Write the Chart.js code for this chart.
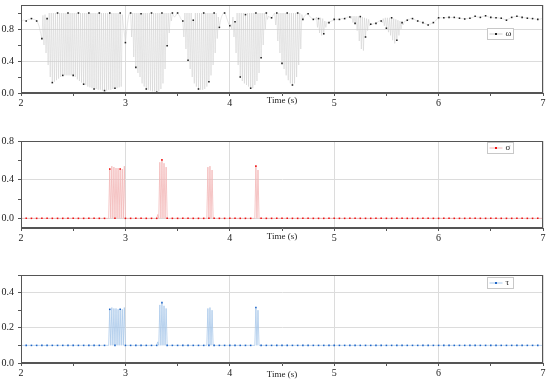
<!DOCTYPE html>
<html lang="en">
<head>
<meta charset="UTF-8">
<title>omega, sigma, tau vs time</title>
<script src="https://cdn.jsdelivr.net/npm/chart.js"></script>
<style>
  body { margin: 0; background: #fff; }
  #wrap { position: relative; width: 550px; height: 385px; }
  canvas { position: absolute; left: 0; }
</style>
</head>
<body>
<div id="wrap">
  <canvas id="cOmega" width="550" height="110" style="top:0px"></canvas>
  <canvas id="cSigma" width="550" height="127" style="top:120px"></canvas>
  <canvas id="cTau" width="550" height="125" style="top:260px"></canvas>
</div>
<script>
// samples every 0.01 s from t = 2 s, a marker on every 5th sample
const tStart = 2;
const tStep = 0.01;
const xTicks = [2, 3, 4, 5, 6, 7];

const omega = [
  0.90,0.90,0.91,0.91,0.90,0.90,0.91,0.92,0.92,0.93,
  0.93,0.93,0.92,0.92,0.91,0.90,0.88,0.85,0.80,0.74,
  0.68,0.97,0.60,0.98,0.50,0.93,0.35,1.00,0.20,1.00,
  0.13,1.00,0.14,1.00,0.16,1.00,0.18,1.00,0.20,1.00,
  0.22,1.00,0.22,1.00,0.22,1.00,0.22,1.00,0.22,1.00,
  0.22,1.00,0.20,1.00,0.17,1.00,0.15,1.00,0.13,1.00,
  0.11,1.00,0.10,1.00,0.08,1.00,0.07,1.00,0.06,1.00,
  0.05,1.00,0.05,1.00,0.04,1.00,0.04,1.00,0.03,1.00,
  0.03,1.00,0.03,1.00,0.04,1.00,0.04,1.00,0.05,1.00,
  0.06,1.00,0.06,1.00,0.07,1.00,0.08,0.98,0.85,0.75,
  0.63,0.75,0.87,0.96,1.00,1.00,0.70,1.00,0.45,1.00,
  0.32,1.00,0.25,1.00,0.20,0.99,0.12,1.00,0.08,1.00,
  0.05,1.00,0.04,1.00,0.03,1.00,0.02,1.00,0.02,1.00,
  0.01,1.00,0.02,1.00,0.05,1.00,0.12,1.00,0.30,1.00,
  0.59,1.00,0.75,1.00,0.90,1.00,0.97,0.95,0.96,0.99,
  1.00,0.98,0.96,0.93,0.91,0.90,0.70,1.00,0.55,1.00,
  0.41,1.00,0.30,1.00,0.20,0.91,0.12,1.00,0.08,1.00,
  0.05,1.00,0.04,1.00,0.04,1.00,0.05,1.00,0.08,1.00,
  0.14,1.00,0.22,1.00,0.35,1.00,0.50,1.00,0.68,0.95,
  0.82,0.90,0.95,0.98,1.00,1.00,0.98,0.94,0.90,0.86,
  0.84,0.86,0.80,0.95,0.70,0.89,0.50,1.00,0.35,1.00,
  0.20,1.00,0.15,1.00,0.12,0.98,0.10,1.00,0.08,1.00,
  0.06,1.00,0.06,1.00,0.10,1.00,0.15,1.00,0.25,1.00,
  0.44,1.00,0.60,1.00,0.80,1.00,0.92,0.96,0.95,0.95,
  0.94,0.96,0.98,1.00,0.85,1.00,0.65,1.00,0.50,1.00,
  0.37,1.00,0.30,1.00,0.22,1.00,0.16,1.00,0.12,1.00,
  0.10,1.00,0.12,1.00,0.20,1.00,0.35,1.00,0.55,0.98,
  0.92,0.95,0.97,0.98,0.99,0.99,0.97,0.95,0.94,0.93,
  0.92,0.93,0.92,0.95,0.82,0.93,0.75,0.94,0.72,0.93,
  0.74,0.90,0.82,0.89,0.87,0.88,0.89,0.90,0.90,0.91,
  0.92,0.92,0.92,0.92,0.92,0.92,0.92,0.93,0.93,0.93,
  0.93,0.94,0.94,0.95,0.95,0.95,0.93,0.96,0.88,0.96,
  0.87,0.96,0.78,0.96,0.65,0.955,0.55,0.95,0.53,0.94,
  0.70,0.93,0.78,0.92,0.84,0.86,0.86,0.86,0.87,0.87,
  0.87,0.88,0.89,0.90,0.90,0.90,0.88,0.93,0.84,0.94,
  0.81,0.94,0.76,0.94,0.72,0.94,0.66,0.93,0.62,0.92,
  0.66,0.91,0.72,0.90,0.80,0.88,0.85,0.89,0.90,0.90,
  0.91,0.92,0.92,0.93,0.93,0.93,0.92,0.92,0.91,0.90,
  0.90,0.90,0.89,0.89,0.88,0.88,0.87,0.87,0.86,0.86,
  0.85,0.86,0.86,0.87,0.87,0.88,0.89,0.90,0.92,0.93,
  0.94,0.94,0.94,0.94,0.94,0.94,0.94,0.945,0.945,0.945,
  0.945,0.945,0.945,0.945,0.945,0.945,0.94,0.94,0.94,0.94,
  0.935,0.93,0.93,0.93,0.93,0.925,0.93,0.93,0.93,0.935,
  0.935,0.94,0.94,0.95,0.95,0.96,0.955,0.95,0.95,0.945,
  0.945,0.95,0.955,0.96,0.96,0.965,0.96,0.955,0.95,0.945,
  0.945,0.945,0.94,0.94,0.94,0.94,0.94,0.94,0.935,0.935,
  0.935,0.93,0.925,0.92,0.915,0.91,0.92,0.925,0.93,0.94,
  0.945,0.95,0.95,0.955,0.955,0.96,0.955,0.955,0.95,0.95,
  0.945,0.945,0.94,0.94,0.94,0.935,0.935,0.935,0.93,0.93,
  0.93,0.93,0.925,0.925,0.92,0.92,0.92,0.925,0.925,0.93,
  0.93
];

const sigma = [
  0,0,0,0,0,0,0,0,0,0,
  0,0,0,0,0,0,0,0,0,0,
  0,0,0,0,0,0,0,0,0,0,
  0,0,0,0,0,0,0,0,0,0,
  0,0,0,0,0,0,0,0,0,0,
  0,0,0,0,0,0,0,0,0,0,
  0,0,0,0,0,0,0,0,0,0,
  0,0,0,0,0,0,0,0,0,0,
  0,0,0,0,0,0.51,0,0.54,0,0.53,
  0,0.52,0,0.52,0,0.51,0,0.51,0,0.54,
  0,0,0,0,0,0,0,0,0,0,
  0,0,0,0,0,0,0,0,0,0,
  0,0,0,0,0,0,0,0,0,0,
  0,0.04,0,0.58,0,0.605,0,0.57,0,0.53,
  0,0,0,0,0,0,0,0,0,0,
  0,0,0,0,0,0,0,0,0,0,
  0,0,0,0,0,0,0,0,0,0,
  0,0,0,0,0,0,0,0,0,0.53,
  0,0.54,0,0.50,0,0,0,0,0,0,
  0,0,0,0,0,0,0,0,0,0,
  0,0,0,0,0,0,0,0,0,0,
  0,0,0,0,0,0,0,0,0,0,
  0,0,0,0,0,0.54,0,0.50,0,0,
  0,0,0,0,0,0,0,0,0,0,
  0,0,0,0,0,0,0,0,0,0,
  0,0,0,0,0,0,0,0,0,0,
  0,0,0,0,0,0,0,0,0,0,
  0,0,0,0,0,0,0,0,0,0,
  0,0,0,0,0,0,0,0,0,0,
  0,0,0,0,0,0,0,0,0,0,
  0,0,0,0,0,0,0,0,0,0,
  0,0,0,0,0,0,0,0,0,0,
  0,0,0,0,0,0,0,0,0,0,
  0,0,0,0,0,0,0,0,0,0,
  0,0,0,0,0,0,0,0,0,0,
  0,0,0,0,0,0,0,0,0,0,
  0,0,0,0,0,0,0,0,0,0,
  0,0,0,0,0,0,0,0,0,0,
  0,0,0,0,0,0,0,0,0,0,
  0,0,0,0,0,0,0,0,0,0,
  0,0,0,0,0,0,0,0,0,0,
  0,0,0,0,0,0,0,0,0,0,
  0,0,0,0,0,0,0,0,0,0,
  0,0,0,0,0,0,0,0,0,0,
  0,0,0,0,0,0,0,0,0,0,
  0,0,0,0,0,0,0,0,0,0,
  0,0,0,0,0,0,0,0,0,0,
  0,0,0,0,0,0,0,0,0,0,
  0,0,0,0,0,0,0,0,0,0,
  0,0,0,0,0,0,0,0,0,0,
  0
];

const tau = [
  0.1,0.1,0.1,0.1,0.1,0.1,0.1,0.1,0.1,0.1,
  0.1,0.1,0.1,0.1,0.1,0.1,0.1,0.1,0.1,0.1,
  0.1,0.1,0.1,0.1,0.1,0.1,0.1,0.1,0.1,0.1,
  0.1,0.1,0.1,0.1,0.1,0.1,0.1,0.1,0.1,0.1,
  0.1,0.1,0.1,0.1,0.1,0.1,0.1,0.1,0.1,0.1,
  0.1,0.1,0.1,0.1,0.1,0.1,0.1,0.1,0.1,0.1,
  0.1,0.1,0.1,0.1,0.1,0.1,0.1,0.1,0.1,0.1,
  0.1,0.1,0.1,0.1,0.1,0.1,0.1,0.1,0.1,0.1,
  0.1,0.1,0.1,0.1,0.1,0.305,0.1,0.315,0.1,0.31,
  0.1,0.31,0.1,0.305,0.1,0.305,0.1,0.305,0.1,0.315,
  0.1,0.1,0.1,0.1,0.1,0.1,0.1,0.1,0.1,0.1,
  0.1,0.1,0.1,0.1,0.1,0.1,0.1,0.1,0.1,0.1,
  0.1,0.1,0.1,0.1,0.1,0.1,0.1,0.1,0.1,0.1,
  0.1,0.12,0.1,0.33,0.1,0.343,0.1,0.325,0.1,0.31,
  0.1,0.1,0.1,0.1,0.1,0.1,0.1,0.1,0.1,0.1,
  0.1,0.1,0.1,0.1,0.1,0.1,0.1,0.1,0.1,0.1,
  0.1,0.1,0.1,0.1,0.1,0.1,0.1,0.1,0.1,0.1,
  0.1,0.1,0.1,0.1,0.1,0.1,0.1,0.1,0.1,0.31,
  0.1,0.315,0.1,0.30,0.1,0.1,0.1,0.1,0.1,0.1,
  0.1,0.1,0.1,0.1,0.1,0.1,0.1,0.1,0.1,0.1,
  0.1,0.1,0.1,0.1,0.1,0.1,0.1,0.1,0.1,0.1,
  0.1,0.1,0.1,0.1,0.1,0.1,0.1,0.1,0.1,0.1,
  0.1,0.1,0.1,0.1,0.1,0.315,0.1,0.30,0.1,0.1,
  0.1,0.1,0.1,0.1,0.1,0.1,0.1,0.1,0.1,0.1,
  0.1,0.1,0.1,0.1,0.1,0.1,0.1,0.1,0.1,0.1,
  0.1,0.1,0.1,0.1,0.1,0.1,0.1,0.1,0.1,0.1,
  0.1,0.1,0.1,0.1,0.1,0.1,0.1,0.1,0.1,0.1,
  0.1,0.1,0.1,0.1,0.1,0.1,0.1,0.1,0.1,0.1,
  0.1,0.1,0.1,0.1,0.1,0.1,0.1,0.1,0.1,0.1,
  0.1,0.1,0.1,0.1,0.1,0.1,0.1,0.1,0.1,0.1,
  0.1,0.1,0.1,0.1,0.1,0.1,0.1,0.1,0.1,0.1,
  0.1,0.1,0.1,0.1,0.1,0.1,0.1,0.1,0.1,0.1,
  0.1,0.1,0.1,0.1,0.1,0.1,0.1,0.1,0.1,0.1,
  0.1,0.1,0.1,0.1,0.1,0.1,0.1,0.1,0.1,0.1,
  0.1,0.1,0.1,0.1,0.1,0.1,0.1,0.1,0.1,0.1,
  0.1,0.1,0.1,0.1,0.1,0.1,0.1,0.1,0.1,0.1,
  0.1,0.1,0.1,0.1,0.1,0.1,0.1,0.1,0.1,0.1,
  0.1,0.1,0.1,0.1,0.1,0.1,0.1,0.1,0.1,0.1,
  0.1,0.1,0.1,0.1,0.1,0.1,0.1,0.1,0.1,0.1,
  0.1,0.1,0.1,0.1,0.1,0.1,0.1,0.1,0.1,0.1,
  0.1,0.1,0.1,0.1,0.1,0.1,0.1,0.1,0.1,0.1,
  0.1,0.1,0.1,0.1,0.1,0.1,0.1,0.1,0.1,0.1,
  0.1,0.1,0.1,0.1,0.1,0.1,0.1,0.1,0.1,0.1,
  0.1,0.1,0.1,0.1,0.1,0.1,0.1,0.1,0.1,0.1,
  0.1,0.1,0.1,0.1,0.1,0.1,0.1,0.1,0.1,0.1,
  0.1,0.1,0.1,0.1,0.1,0.1,0.1,0.1,0.1,0.1,
  0.1,0.1,0.1,0.1,0.1,0.1,0.1,0.1,0.1,0.1,
  0.1,0.1,0.1,0.1,0.1,0.1,0.1,0.1,0.1,0.1,
  0.1,0.1,0.1,0.1,0.1,0.1,0.1,0.1,0.1,0.1,
  0.1,0.1,0.1,0.1,0.1,0.1,0.1,0.1,0.1,0.1,
  0.1
];

const serif = "'Liberation Serif', 'DejaVu Serif', serif";
const inkColor = '#222';
const frameColor = '#555';

// frame on all four sides + small boxed legend inside the plot area
const framePlugin = {
  id: 'frameLegend',
  afterDraw(chart, args, opts) {
    const { ctx, chartArea: a } = chart;
    const ds = chart.data.datasets[0];
    ctx.save();
    ctx.strokeStyle = frameColor;
    ctx.lineWidth = 1;
    ctx.strokeRect(Math.round(a.left) + 0.5, Math.round(a.top) + 0.5,
                   Math.round(a.right - a.left) - 1, Math.round(a.bottom - a.top) - 1);

    // legend box
    const bx = Math.round(a.right) - 55.5, by = Math.round(a.top + opts.dy) + 0.5;
    const bw = 26, bh = 11;
    ctx.fillStyle = '#fff';
    ctx.fillRect(bx, by, bw, bh);
    ctx.strokeStyle = '#c8c8c8';
    ctx.strokeRect(bx, by, bw, bh);
    const my = by + bh / 2;
    ctx.strokeStyle = ds.borderColor;
    ctx.lineWidth = 1;
    ctx.beginPath();
    ctx.moveTo(bx + 2, my);
    ctx.lineTo(bx + 15, my);
    ctx.stroke();
    ctx.fillStyle = ds.pointBackgroundColor;
    ctx.fillRect(bx + 7.5, my - 1, 2, 2);
    ctx.fillStyle = inkColor;
    ctx.font = '9px ' + serif;
    ctx.textBaseline = 'middle';
    ctx.fillText(ds.label, bx + 18, my);
    ctx.restore();
  }
};

function isMajor(v, step) {
  return Math.abs(v / step - Math.round(v / step)) < 1e-6;
}

function makeChart(id, values, o) {
  return new Chart(document.getElementById(id), {
    type: 'line',
    data: {
      datasets: [{
        label: o.label,
        data: values.map((v, i) => ({ x: tStart + i * tStep, y: v })),
        borderColor: o.lineColor,
        borderWidth: o.lineWidth,
        pointRadius: c => (c.dataIndex % 5 === 0 ? 1.1 : 0),
        pointStyle: 'rect',
        pointBackgroundColor: o.markColor,
        pointBorderWidth: 0,
        tension: 0,
        fill: false
      }]
    },
    options: {
      responsive: false,
      animation: false,
      events: [],
      layout: { padding: { top: o.padTop, right: 7, left: 0, bottom: 0 } },
      plugins: {
        legend: { display: false },
        tooltip: { enabled: false },
        frameLegend: { dy: o.legendDy }
      },
      scales: {
        x: {
          type: 'linear',
          min: 2,
          max: 7,
          afterFit: s => { s.height = o.xHeight; },
          ticks: {
            stepSize: 0.5,
            autoSkip: false,
            maxRotation: 0,
            padding: 1,
            color: inkColor,
            font: { family: serif, size: 10 },
            callback: v => (xTicks.includes(v) ? String(v) : '')
          },
          grid: {
            color: c => (c.tick && xTicks.includes(c.tick.value) ? '#dcdcdc' : 'rgba(0,0,0,0)'),
            tickColor: frameColor,
            tickLength: 3
          },
          border: { color: frameColor },
          title: {
            display: true,
            text: 'Time (s)',
            color: inkColor,
            font: { family: serif, size: 9 },
            padding: { top: 0, bottom: o.titlePad }
          }
        },
        y: {
          min: o.yMin,
          max: o.yMax,
          afterFit: s => { s.width = 21; s.paddingTop = 0; s.paddingBottom = 0; },
          ticks: {
            stepSize: o.yMajor / 2,
            includeBounds: false,
            padding: 4,
            color: inkColor,
            font: { family: serif, size: 10 },
            callback: v => (isMajor(v, o.yMajor) ? v.toFixed(1) : '')
          },
          grid: {
            color: c => (c.tick && isMajor(c.tick.value, o.yMajor) ? '#dcdcdc' : 'rgba(0,0,0,0)'),
            tickColor: frameColor,
            tickLength: 3
          },
          border: { color: frameColor }
        }
      }
    },
    plugins: [framePlugin]
  });
}

makeChart('cOmega', omega, {
  label: 'ω', lineColor: '#cdcdcd', markColor: '#222', lineWidth: 0.5,
  yMin: 0, yMax: 1.1, yMajor: 0.4,
  padTop: 5, xHeight: 17, titlePad: 4, legendDy: 23
});

makeChart('cSigma', sigma, {
  label: 'σ', lineColor: '#f2b6b6', markColor: '#f01010', lineWidth: 0.8,
  yMin: -0.1, yMax: 0.8, yMajor: 0.4,
  padTop: 21, xHeight: 19, titlePad: 5, legendDy: 1
});

makeChart('cTau', tau, {
  label: 'τ', lineColor: '#a8c8ea', markColor: '#1f66c8', lineWidth: 0.8,
  yMin: 0, yMax: 0.5, yMajor: 0.2,
  padTop: 15, xHeight: 22, titlePad: 5, legendDy: 2
});
</script>
</body>
</html>
